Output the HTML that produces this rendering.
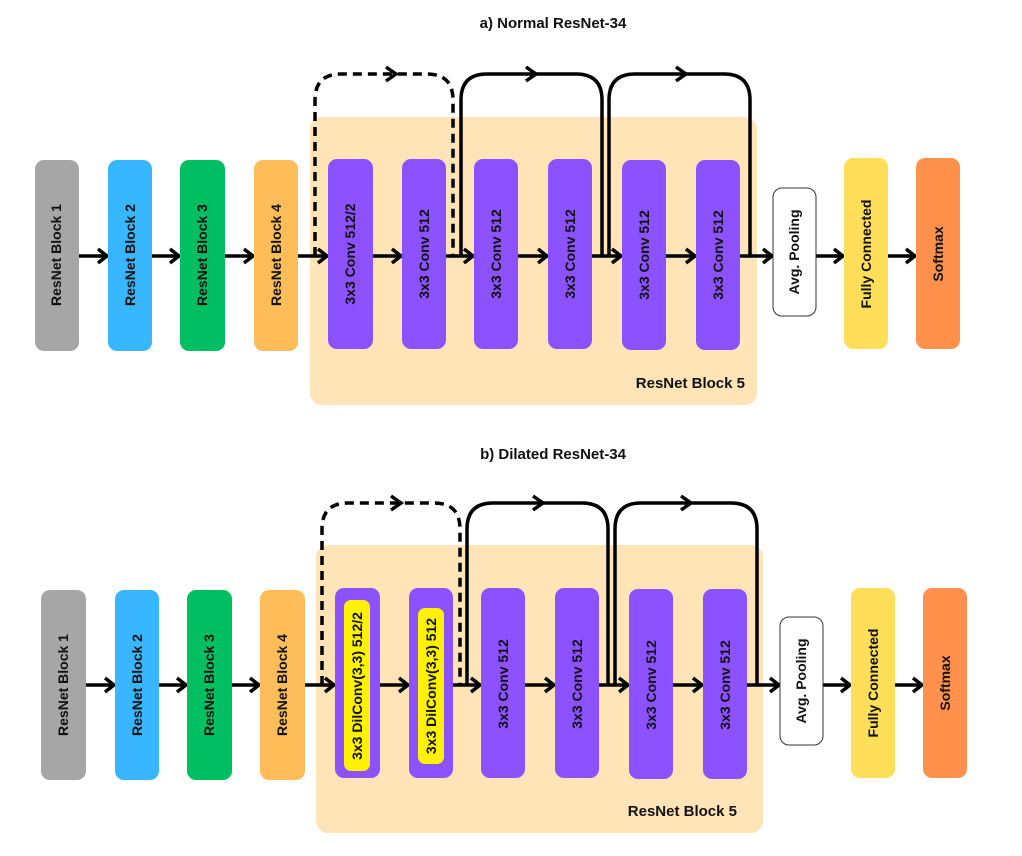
<!DOCTYPE html>
<html><head><meta charset="utf-8"><style>
body{margin:0;background:#fff}
text{font-family:"Liberation Sans",sans-serif;font-weight:bold;fill:#111}
</style></head><body>
<svg width="1022" height="851" viewBox="0 0 1022 851" xmlns="http://www.w3.org/2000/svg">
<defs>
<marker id="a" viewBox="0 0 14 18" refX="11" refY="9" markerWidth="14" markerHeight="18" markerUnits="userSpaceOnUse" orient="auto">
<polyline points="2,2 11,9 2,16" fill="none" stroke="#000" stroke-width="3.5"/>
</marker>
</defs>
<rect width="1022" height="851" fill="#fff"/>

<!-- TOP -->
<text x="553" y="28" font-size="15" text-anchor="middle">a) Normal ResNet-34</text>
<rect x="310" y="117" width="447" height="288" rx="12" fill="#fee4b6"/>
<text x="745" y="388" font-size="15" text-anchor="end">ResNet Block 5</text>

<g fill="none" stroke="#000" stroke-width="3.5">
<path d="M315 256 V100 Q315 74 341 74 H427 Q453 74 453 100 V256" stroke-dasharray="9 6"/>
<path d="M461 256 V100 Q461 74 487 74 H576 Q602 74 602 100 V256"/>
<path d="M609 256 V100 Q609 74 635 74 H724 Q750 74 750 100 V256"/>
<polyline points="386,67 396,74 386,81"/>
<polyline points="526,67 536,74 526,81"/>
<polyline points="676,67 686,74 676,81"/>
</g>
<g stroke="#000" stroke-width="3.5" marker-end="url(#a)">
<line x1="78" y1="256" x2="107" y2="256"/>
<line x1="152" y1="256" x2="179" y2="256"/>
<line x1="225" y1="256" x2="253" y2="256"/>
<line x1="298" y1="256" x2="327" y2="256"/>
<line x1="373" y1="256" x2="401" y2="256"/>
<line x1="446" y1="256" x2="473" y2="256"/>
<line x1="518" y1="256" x2="547" y2="256"/>
<line x1="592" y1="256" x2="621" y2="256"/>
<line x1="666" y1="256" x2="695" y2="256"/>
<line x1="740" y1="256" x2="772" y2="256"/>
<line x1="816" y1="256" x2="843" y2="256"/>
<line x1="888" y1="256" x2="915" y2="256"/>
</g>

<rect x="35" y="160" width="44" height="191" rx="9" fill="#a6a6a6"/>
<rect x="108" y="160" width="44" height="191" rx="9" fill="#38b6ff"/>
<rect x="180" y="160" width="45" height="191" rx="9" fill="#00bf63"/>
<rect x="254" y="160" width="44" height="191" rx="9" fill="#ffbd59"/>
<rect x="328" y="159" width="45" height="190" rx="9" fill="#8c52ff"/>
<rect x="402" y="159" width="44" height="190" rx="9" fill="#8c52ff"/>
<rect x="474" y="159" width="44" height="190" rx="9" fill="#8c52ff"/>
<rect x="548" y="159" width="44" height="190" rx="9" fill="#8c52ff"/>
<rect x="622" y="160" width="44" height="190" rx="9" fill="#8c52ff"/>
<rect x="696" y="160" width="44" height="190" rx="9" fill="#8c52ff"/>
<rect x="773" y="188" width="43" height="128" rx="9" fill="#fff" stroke="#333" stroke-width="1"/>
<rect x="844" y="158" width="44" height="191" rx="9" fill="#ffde59"/>
<rect x="916" y="158" width="44" height="191" rx="9" fill="#ff914d"/>

<g font-size="14" text-anchor="middle">
<text transform="translate(61,255) rotate(-90)">ResNet Block 1</text>
<text transform="translate(135,255) rotate(-90)">ResNet Block 2</text>
<text transform="translate(207,255) rotate(-90)">ResNet Block 3</text>
<text transform="translate(281,255) rotate(-90)">ResNet Block 4</text>
<text transform="translate(355,254) rotate(-90)">3x3 Conv 512/2</text>
<text transform="translate(429,254) rotate(-90)">3x3 Conv 512</text>
<text transform="translate(501,254) rotate(-90)">3x3 Conv 512</text>
<text transform="translate(575,254) rotate(-90)">3x3 Conv 512</text>
<text transform="translate(649,255) rotate(-90)">3x3 Conv 512</text>
<text transform="translate(723,255) rotate(-90)">3x3 Conv 512</text>
<text transform="translate(799,252) rotate(-90)" font-weight="normal">Avg. Pooling</text>
<text transform="translate(871,254) rotate(-90)">Fully Connected</text>
<text transform="translate(943,254) rotate(-90)">Softmax</text>
</g>

<!-- BOTTOM -->
<text x="553" y="459" font-size="15" text-anchor="middle">b) Dilated ResNet-34</text>
<rect x="316" y="545" width="447" height="288" rx="12" fill="#fee4b6"/>
<text x="737" y="816" font-size="15" text-anchor="end">ResNet Block 5</text>

<g fill="none" stroke="#000" stroke-width="3.5">
<path d="M322 685 V529 Q322 503 348 503 H434 Q460 503 460 529 V685" stroke-dasharray="9 6"/>
<path d="M467 685 V529 Q467 503 493 503 H582 Q608 503 608 529 V685"/>
<path d="M615 685 V529 Q615 503 641 503 H731 Q757 503 757 529 V685"/>
<polyline points="391,496 401,503 391,510"/>
<polyline points="533,496 543,503 533,510"/>
<polyline points="681,496 691,503 681,510"/>
</g>
<g stroke="#000" stroke-width="3.5" marker-end="url(#a)">
<line x1="86" y1="685" x2="114" y2="685"/>
<line x1="159" y1="685" x2="186" y2="685"/>
<line x1="232" y1="685" x2="259" y2="685"/>
<line x1="305" y1="685" x2="334" y2="685"/>
<line x1="380" y1="685" x2="408" y2="685"/>
<line x1="453" y1="685" x2="480" y2="685"/>
<line x1="525" y1="685" x2="554" y2="685"/>
<line x1="599" y1="685" x2="628" y2="685"/>
<line x1="673" y1="685" x2="702" y2="685"/>
<line x1="747" y1="685" x2="779" y2="685"/>
<line x1="823" y1="685" x2="850" y2="685"/>
<line x1="895" y1="685" x2="922" y2="685"/>
</g>

<rect x="41" y="590" width="45" height="190" rx="9" fill="#a6a6a6"/>
<rect x="115" y="590" width="44" height="190" rx="9" fill="#38b6ff"/>
<rect x="187" y="590" width="45" height="190" rx="9" fill="#00bf63"/>
<rect x="260" y="590" width="45" height="190" rx="9" fill="#ffbd59"/>
<rect x="335" y="588" width="45" height="190" rx="9" fill="#8c52ff"/>
<rect x="409" y="588" width="44" height="190" rx="9" fill="#8c52ff"/>
<rect x="481" y="588" width="44" height="190" rx="9" fill="#8c52ff"/>
<rect x="555" y="588" width="44" height="190" rx="9" fill="#8c52ff"/>
<rect x="629" y="589" width="44" height="190" rx="9" fill="#8c52ff"/>
<rect x="703" y="589" width="44" height="190" rx="9" fill="#8c52ff"/>
<rect x="344" y="600" width="26" height="171" rx="7" fill="#fff200"/>
<rect x="418" y="608" width="26" height="156" rx="7" fill="#fff200"/>
<rect x="780" y="617" width="43" height="128" rx="9" fill="#fff" stroke="#333" stroke-width="1"/>
<rect x="851" y="588" width="44" height="190" rx="9" fill="#ffde59"/>
<rect x="923" y="588" width="44" height="190" rx="9" fill="#ff914d"/>

<g font-size="14" text-anchor="middle">
<text transform="translate(68,685) rotate(-90)">ResNet Block 1</text>
<text transform="translate(142,685) rotate(-90)">ResNet Block 2</text>
<text transform="translate(214,685) rotate(-90)">ResNet Block 3</text>
<text transform="translate(287,685) rotate(-90)">ResNet Block 4</text>
<text transform="translate(362,686) rotate(-90)">3x3 DilConv(3,3) 512/2</text>
<text transform="translate(436,686) rotate(-90)">3x3 DilConv(3,3) 512</text>
<text transform="translate(508,684) rotate(-90)">3x3 Conv 512</text>
<text transform="translate(582,684) rotate(-90)">3x3 Conv 512</text>
<text transform="translate(656,685) rotate(-90)">3x3 Conv 512</text>
<text transform="translate(730,685) rotate(-90)">3x3 Conv 512</text>
<text transform="translate(806,681) rotate(-90)" font-weight="normal">Avg. Pooling</text>
<text transform="translate(878,683) rotate(-90)">Fully Connected</text>
<text transform="translate(950,683) rotate(-90)">Softmax</text>
</g>
</svg>
</body></html>
